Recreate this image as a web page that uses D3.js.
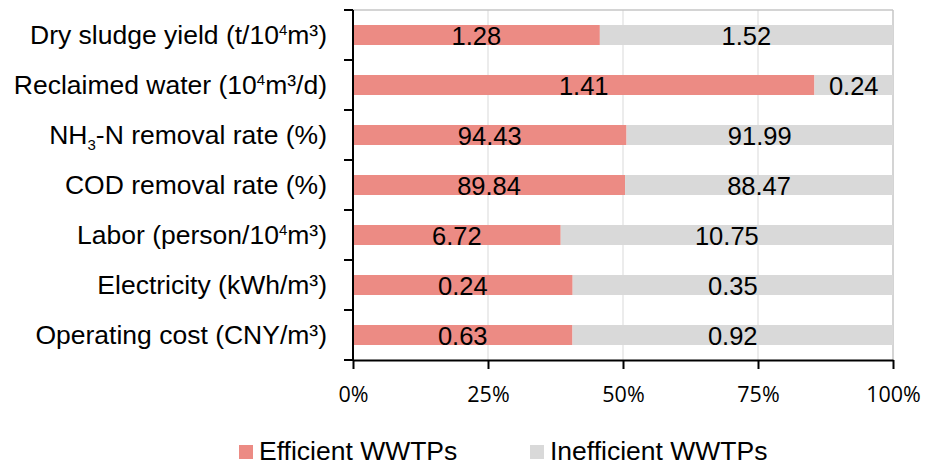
<!DOCTYPE html>
<html>
<head>
<meta charset="utf-8">
<script src="https://cdn.jsdelivr.net/npm/d3@7"></script>
<style>
  html, body { margin: 0; padding: 0; background: #fff; }
  svg { display: block; }
</style>
</head>
<body>
<svg id="chart" width="925" height="466"></svg>
<script>
// Indicators, listed top to bottom
const categories = [
  "Dry sludge yield (t/10⁴m³)",
  "Reclaimed water (10⁴m³/d)",
  "NH₃-N removal rate (%)",
  "COD removal rate (%)",
  "Labor (person/10⁴m³)",
  "Electricity (kWh/m³)",
  "Operating cost (CNY/m³)"
];
const seriesNames = ["Efficient WWTPs", "Inefficient WWTPs"];
const efficient   = [1.28, 1.41, 94.43, 89.84, 6.72, 0.24, 0.63];
const inefficient = [1.52, 0.24, 91.99, 88.47, 10.75, 0.35, 0.92];
const xTicks = [0, 0.25, 0.5, 0.75, 1];

const colors = ["#EC8B84", "#D9D9D9"];
const FONT = "'Liberation Sans', Arial, sans-serif";

const svg = d3.select("#chart");
const plotLeft = 353, plotRight = 893, plotTop = 10, plotBottom = 360;

const x = d3.scaleLinear().domain([0, 1]).range([plotLeft, plotRight]);
const y = d3.scaleBand().domain(categories).range([plotTop, plotBottom])
  .paddingInner(0.6).paddingOuter(0.3);
// boundaries between categories for the y-axis ticks
const yEdge = d3.scaleLinear().domain([0, categories.length]).range([plotTop, plotBottom]);

const rows = categories.map((c, i) => ({ cat: c, eff: efficient[i], ineff: inefficient[i] }));
const stack = d3.stack().keys(["eff", "ineff"]).offset(d3.stackOffsetExpand);
const layers = stack(rows);

// gridlines
const grid = svg.append("g");
grid.selectAll("line.v").data(xTicks.slice(1, -1)).join("line")
  .attr("x1", d => x(d)).attr("x2", d => x(d))
  .attr("y1", plotTop).attr("y2", plotBottom)
  .attr("stroke", "#E6E6E6").attr("stroke-width", 1.5);
grid.append("line").attr("x1", plotLeft).attr("x2", x(1)).attr("y1", plotTop).attr("y2", plotTop)
  .attr("stroke", "#C6C6C6").attr("stroke-width", 1.5);
grid.append("line").attr("x1", x(1)).attr("x2", x(1)).attr("y1", plotTop).attr("y2", plotBottom)
  .attr("stroke", "#C6C6C6").attr("stroke-width", 1.5);

// bars
const gBars = svg.append("g");
layers.forEach((layer, li) => {
  gBars.append("g").attr("fill", colors[li])
    .selectAll("rect").data(layer).join("rect")
    .attr("x", d => x(d[0]))
    .attr("width", d => x(d[1]) - x(d[0]))
    .attr("y", d => y(d.data.cat))
    .attr("height", y.bandwidth());
});

// value labels centred in each segment
layers.forEach((layer) => {
  const key = layer.key;
  svg.append("g").selectAll("text").data(layer).join("text")
    .attr("x", d => (x(d[0]) + x(d[1])) / 2)
    .attr("y", d => y(d.data.cat) + y.bandwidth() / 2 + 10)
    .attr("text-anchor", "middle")
    .attr("font-family", FONT).attr("font-size", 25.5).attr("fill", "#000")
    .text(d => d3.format(".2f")(d.data[key]));
});

// category labels with raised / lowered characters
const shifted = { "⁴": ["4", -9], "₃": ["3", 6] };
const gY = svg.append("g");
categories.forEach(c => {
  const t = gY.append("text")
    .attr("x", 327).attr("y", y(c) + y.bandwidth() / 2 + 9)
    .attr("text-anchor", "end")
    .attr("font-family", FONT).attr("font-size", 26.5).attr("fill", "#000");
  let buf = "", back = 0;
  const flush = () => {
    if (buf) {
      const s = t.append("tspan").text(buf);
      if (back) s.attr("dy", back);
      buf = ""; back = 0;
    }
  };
  for (const ch of c) {
    if (shifted[ch]) {
      flush();
      const [glyph, dy] = shifted[ch];
      t.append("tspan").attr("font-size", 15).attr("dy", dy).text(glyph);
      back = -dy;
    } else buf += ch;
  }
  flush();
});

// y axis line and boundary ticks
const axisStroke = 2;
svg.append("line").attr("x1", plotLeft).attr("x2", plotLeft).attr("y1", plotTop).attr("y2", plotBottom + 1)
  .attr("stroke", "#000").attr("stroke-width", axisStroke);
svg.append("g").selectAll("line").data(d3.range(categories.length + 1)).join("line")
  .attr("x1", plotLeft - 9).attr("x2", plotLeft)
  .attr("y1", d => yEdge(d)).attr("y2", d => yEdge(d))
  .attr("stroke", "#000").attr("stroke-width", axisStroke);

// x axis
const xAxis = d3.axisBottom(x).tickValues(xTicks).tickFormat(d3.format(".0%"))
  .tickSizeInner(9).tickSizeOuter(0).tickPadding(18);
const gX = svg.append("g").attr("transform", `translate(0,${plotBottom})`).call(xAxis);
gX.select(".domain").attr("stroke", "#000").attr("stroke-width", axisStroke);
gX.selectAll(".tick line").attr("stroke", "#000").attr("stroke-width", axisStroke);
gX.selectAll(".tick text").attr("fill", "#000")
  .attr("font-family", "'Open Sans', sans-serif").attr("font-size", 21.5);

// legend
const legendItems = [
  { name: seriesNames[0], color: colors[0], x: 239 },
  { name: seriesNames[1], color: colors[1], x: 530 }
];
const gL = svg.append("g");
legendItems.forEach(it => {
  gL.append("rect").attr("x", it.x).attr("y", 445).attr("width", 14).attr("height", 14)
    .attr("fill", it.color);
  gL.append("text").attr("x", it.x + 20).attr("y", 460)
    .attr("font-family", FONT).attr("font-size", 26.5).attr("fill", "#000")
    .text(it.name);
});
</script>
</body>
</html>
